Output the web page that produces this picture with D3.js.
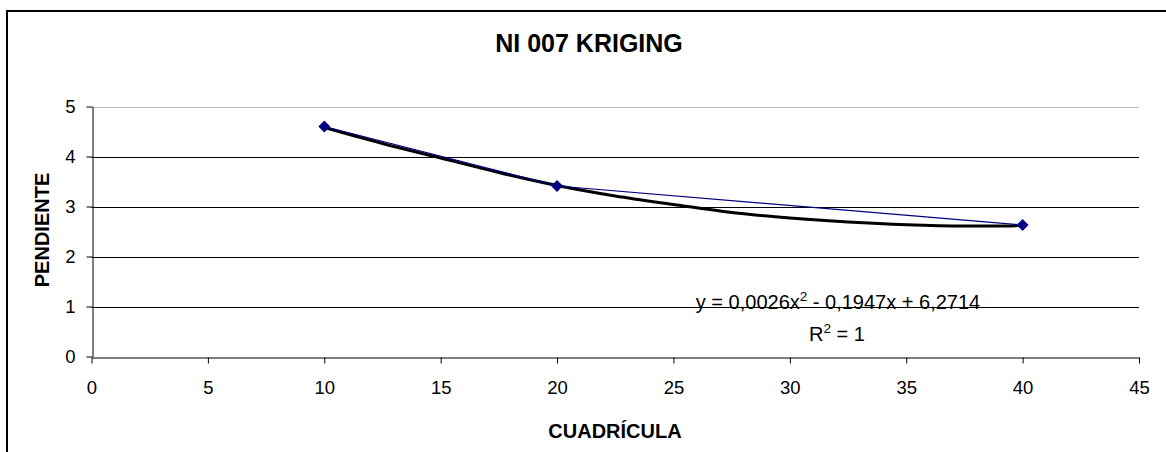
<!DOCTYPE html>
<html><head><meta charset="utf-8">
<script src="https://cdn.jsdelivr.net/npm/d3@7"></script>
<style>
html,body{margin:0;padding:0;background:#fff;}
text{font-family:"Liberation Sans",Arial,sans-serif;}
</style></head>
<body><svg id="c" width="1166" height="452"></svg>
<script>
const title = "NI 007 KRIGING";
const xLabel = "CUADRÍCULA";
const yLabel = "PENDIENTE";
const xValues = [10, 20, 40];
const yValues = [4.6, 3.41, 2.63];
const trendX = [10, 12.5, 15, 17.5, 20, 22.5, 25, 27.5, 30, 32.5, 35, 37.5, 39.3, 40];
const trendY = [4.58, 4.26, 3.97, 3.68, 3.42, 3.21, 3.04, 2.88, 2.77, 2.69, 2.635, 2.61, 2.61, 2.63];
const xTicks = [0, 5, 10, 15, 20, 25, 30, 35, 40, 45];
const yTicks = [0, 1, 2, 3, 4, 5];
const equation = ["y = 0,0026x", "2", " - 0,1947x + 6,2714"];
const rSquared = ["R", "2", " = 1"];

const svg = d3.select("#c");
// outer frame
svg.append("rect").attr("x", 7).attr("y", 11).attr("width", 1170).attr("height", 460)
  .attr("fill", "none").attr("stroke", "#000").attr("stroke-width", 2);

const x = d3.scaleLinear().domain([0, 45]).range([91.5, 1139]);
const y = d3.scaleLinear().domain([0, 5]).range([356.5, 106.5]);

// gridlines
svg.append("g").selectAll("line").data(yTicks.filter(d => d > 0)).join("line")
  .attr("x1", x(0)).attr("x2", x(45))
  .attr("y1", d => Math.round(y(d)) + 0.5).attr("y2", d => Math.round(y(d)) + 0.5)
  .attr("stroke", d => d === 5 ? "#c0c0c0" : "#000").attr("stroke-width", 1);

// axes
const xAxis = svg.append("g").attr("transform", `translate(0,${Math.round(y(0)) + 0.5})`)
  .call(d3.axisBottom(x).tickValues(xTicks).tickFormat(d3.format("d")).tickSize(6).tickPadding(17).tickSizeOuter(0));
const yAxis = svg.append("g").attr("transform", `translate(${Math.round(x(0)) + 0.5},0)`)
  .call(d3.axisLeft(y).tickValues(yTicks).tickFormat(d3.format("d")).tickSize(6).tickPadding(11).tickSizeOuter(0));
[xAxis, yAxis].forEach(g => {
  g.select(".domain").attr("stroke", "#000");
  g.selectAll(".tick line").attr("stroke", "#000");
  g.selectAll(".tick text").attr("fill", "#000").style("font-size", "18.5px")
    .style("font-family", "'Liberation Sans',Arial,sans-serif");
});

// trendline (black, thick)
const pts = trendX.map((d, i) => [d, trendY[i]]);
svg.append("path").datum(pts)
  .attr("d", d3.line().x(d => x(d[0])).y(d => y(d[1])).curve(d3.curveMonotoneX))
  .attr("fill", "none").attr("stroke", "#000").attr("stroke-width", 3);

// series line
const ser = xValues.map((d, i) => [d, yValues[i]]);
svg.append("path").datum(ser)
  .attr("d", d3.line().x(d => x(d[0])).y(d => y(d[1])))
  .attr("fill", "none").attr("stroke", "#000080").attr("stroke-width", 1.2);
svg.append("g").selectAll("path").data(ser).join("path")
  .attr("d", d3.symbol().type(d3.symbolDiamond2).size(90))
  .attr("transform", d => `translate(${x(d[0])},${y(d[1])})`)
  .attr("fill", "#000080");

// titles
svg.append("text").attr("x", 589).attr("y", 52).attr("text-anchor", "middle")
  .style("font-size", "25px").style("font-weight", "bold").text(title);
svg.append("text").attr("x", 615).attr("y", 438).attr("text-anchor", "middle")
  .style("font-size", "20px").style("font-weight", "bold").text(xLabel);
svg.append("text").attr("transform", "translate(49,230) rotate(-90)").attr("text-anchor", "middle")
  .style("font-size", "20px").style("font-weight", "bold").text(yLabel);

// equation
const eq = svg.append("text").attr("x", 838).attr("y", 309).attr("text-anchor", "middle").style("font-size", "20px");
eq.append("tspan").text(equation[0]);
eq.append("tspan").attr("dy", -8).style("font-size", "13.5px").text(equation[1]);
eq.append("tspan").attr("dy", 8).text(equation[2]);
const r2 = svg.append("text").attr("x", 837).attr("y", 341).attr("text-anchor", "middle").style("font-size", "20px");
r2.append("tspan").text(rSquared[0]);
r2.append("tspan").attr("dy", -8).style("font-size", "13.5px").text(rSquared[1]);
r2.append("tspan").attr("dy", 8).text(rSquared[2]);
</script></body></html>
